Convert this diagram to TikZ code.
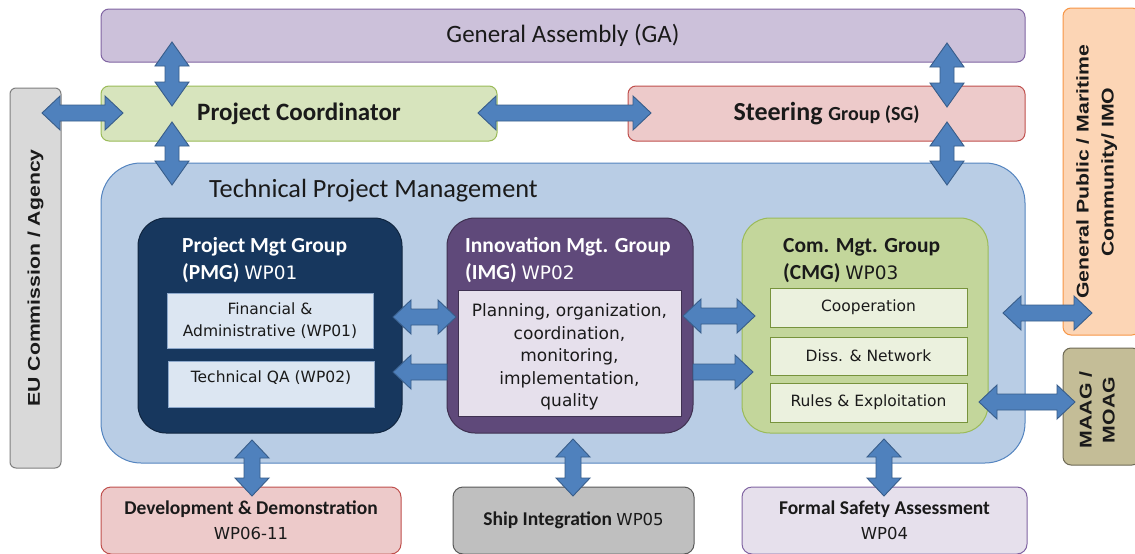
\documentclass[tikz,border=0pt]{standalone}
\usepackage{fontspec}
\usepackage{graphicx}
\setmainfont{Carlito}
\newfontfamily\dvs{DejaVu Sans}
\newfontfamily\lsans{Liberation Sans}
\usetikzlibrary{calc}
\definecolor{gafill}{HTML}{CCC1DA}\definecolor{galine}{HTML}{8064A2}
\definecolor{pcfill}{HTML}{D7E4BD}\definecolor{pcline}{HTML}{9BBB59}
\definecolor{sgfill}{HTML}{EDCACA}\definecolor{sgline}{HTML}{C0504D}
\definecolor{eufill}{HTML}{D9D9D9}\definecolor{euline}{HTML}{7F7F7F}
\definecolor{gpfill}{HTML}{FCD5B5}\definecolor{gpline}{HTML}{F79646}
\definecolor{mafill}{HTML}{C4BD97}\definecolor{maline}{HTML}{6E6A55}
\definecolor{tpfill}{HTML}{B9CDE5}\definecolor{tpline}{HTML}{5585C0}
\definecolor{pmfill}{HTML}{17375E}\definecolor{pmline}{HTML}{10253F}
\definecolor{fifill}{HTML}{DCE6F2}\definecolor{filine}{HTML}{8EA9CC}
\definecolor{imfill}{HTML}{5F497A}\definecolor{imline}{HTML}{3F3151}
\definecolor{iifill}{HTML}{E6E0EC}
\definecolor{cmfill}{HTML}{C3D69B}\definecolor{cmline}{HTML}{9BBB59}
\definecolor{cifill}{HTML}{EBF1DE}\definecolor{ciline}{HTML}{77933C}
\definecolor{shfill}{HTML}{BFBFBF}\definecolor{shline}{HTML}{595959}
\definecolor{fsfill}{HTML}{E6E0EC}
\definecolor{arfill}{HTML}{4F81BD}\definecolor{arline}{HTML}{385D8A}
\definecolor{ink}{HTML}{1A1A1A}
\newcommand\fsz[2]{\fontsize{#1}{#2}\selectfont}
\newcommand\tabl[2]{\begin{tabular}[t]{@{}#1@{}}#2\end{tabular}}
\def\hw{17pt}\def\sw{8pt}\def\hh{18pt}
% vertical double arrow: top, bottom, head length, shaft half width
\newcommand\arrV[4]{\draw[blk] let \p1=(#1),\p2=(#2) in (\x1,\y1) -- (\x1+\hw,\y1-#3) -- (\x1+#4,\y1-#3) -- (\x1+#4,\y2+#3) -- (\x1+\hw,\y2+#3) -- (\x1,\y2) -- (\x1-\hw,\y2+#3) -- (\x1-#4,\y2+#3) -- (\x1-#4,\y1-#3) -- (\x1-\hw,\y1-#3) -- cycle;}
\newcommand\arrH[2]{\draw[blk] let \p1=(#1),\p2=(#2) in (\x1,\y1) -- (\x1+\hh,\y1+\hw) -- (\x1+\hh,\y1+\sw) -- (\x2-\hh,\y1+\sw) -- (\x2-\hh,\y1+\hw) -- (\x2,\y1) -- (\x2-\hh,\y1-\hw) -- (\x2-\hh,\y1-\sw) -- (\x1+\hh,\y1-\sw) -- (\x1+\hh,\y1-\hw) -- cycle;}
\newcommand\arrL[2]{\draw[blk] let \p1=(#1),\p2=(#2) in (\x1,\y1) -- (\x1+\hh,\y1+\hw) -- (\x1+\hh,\y1+\sw) -- (\x2,\y1+\sw) -- (\x2,\y1-\sw) -- (\x1+\hh,\y1-\sw) -- (\x1+\hh,\y1-\hw) -- cycle;}
\newcommand\arrR[2]{\draw[blk] let \p1=(#1),\p2=(#2) in (\x2,\y1) -- (\x2-\hh,\y1+\hw) -- (\x2-\hh,\y1+\sw) -- (\x1,\y1+\sw) -- (\x1,\y1-\sw) -- (\x2-\hh,\y1-\sw) -- (\x2-\hh,\y1-\hw) -- cycle;}
\begin{document}
\begin{tikzpicture}[x=1pt,y=-1pt,
  box/.style={draw, line width=1pt, rounded corners=8pt, inner sep=0pt, text=ink},
  grp/.style={draw, line width=1pt, rounded corners=28pt, inner sep=0pt},
  sub/.style={draw, line width=0.8pt, inner sep=0pt, text=ink, align=center},
  blk/.style={fill=arfill, draw=arline, line width=0.9pt, line join=miter},
  ttl/.style={anchor=base west, inner sep=0pt}]
\useasboundingbox (0,0) rectangle (1135,554);
\clip (0,0) rectangle (1135,554);
\fill[white] (0,0) rectangle (1135,554);

% top row
\node[box, fill=gafill, draw=galine, minimum width=924pt, minimum height=53pt] (ga) at (563,35.5)
  {\fsz{25}{30}General Assembly (GA)};
\node[box, fill=pcfill, draw=pcline, minimum width=396pt, minimum height=55pt] (pc) at (299,113.5)
  {\fsz{25}{30}\bfseries Project Coordinator};
\node[box, fill=sgfill, draw=sgline, minimum width=397pt, minimum height=55pt] (sg) at (826.5,113.5)
  {\bfseries\fsz{26}{30}Steering \fsz{20}{24}Group (SG)};

% side boxes
\node[box, rounded corners=6pt, fill=eufill, draw=euline, minimum width=51pt, minimum height=380pt] (eu) at (35.5,278)
  {\rotatebox{90}{\lsans\bfseries\fsz{17}{24}\scalebox{1.25}[1]{EU Commission / Agency}}};
\node[box, fill=gpfill, draw=gpline, minimum width=77pt, minimum height=327pt] (gp) at (1101.5,171.5) {};
\node[inner sep=0pt, text=ink] (gptext) at (1096,172)
  {\rotatebox{90}{\lsans\bfseries\fsz{17}{25}\scalebox{1.25}[1]{\tabl{c}{General Public / Maritime\\ Community/ IMO}}}};
\node[box, fill=mafill, draw=maline, minimum width=77pt, minimum height=117pt] (maag) at (1101.5,406.5) {};
\node[inner sep=0pt, text=ink] (maagtext) at (1098.5,410)
  {\rotatebox{90}{\lsans\bfseries\fsz{17}{23}\scalebox{1.25}[1]{\tabl{c}{MAAG /\\ MOAG}}}};

% technical project management
\node[draw=tpline, fill=tpfill, line width=1pt, rounded corners=40pt, minimum width=924pt, minimum height=300pt, inner sep=0pt] (tpm) at (563,313) {};
\node[ttl, text=ink] (tpmt) at (209,197) {\fsz{26.3}{30}Technical Project Management};

% PMG
\node[grp, fill=pmfill, draw=pmline, minimum width=264pt, minimum height=215pt] (pmg) at (270,325.5) {};
\node[ttl, text=white] (pmgt) at (182,252) {\fsz{21.5}{27}\tabl{l}{\bfseries Project Mgt Group\\ \bfseries (PMG) {\dvs\mdseries\fsz{18.5}{27}WP01}}};
\node[sub, fill=fifill, draw=filine, minimum width=206pt, minimum height=55pt, font={\dvs\fsz{15.5}{22.5}}] (fin) at (270,320.5)
  {Financial \&\\ Administrative (WP01)};
\node[sub, fill=fifill, draw=filine, minimum width=206pt, minimum height=46pt] (tqa) at (271,384) {};
\node[text=ink, inner sep=0pt, font={\dvs\fsz{15.5}{22}}] (tqat) at (271,378) {Technical QA (WP02)};

% IMG
\node[grp, fill=imfill, draw=imline, minimum width=246pt, minimum height=215pt] (img) at (570,325.5) {};
\node[ttl, text=white] (imgt) at (465,252) {\fsz{21.5}{27}\tabl{l}{\bfseries Innovation Mgt. Group\\ \bfseries (IMG) {\dvs\mdseries\fsz{18.5}{27}WP02}}};
\node[sub, fill=iifill, draw=imline, minimum width=223pt, minimum height=126pt] (imgin) at (569.5,353) {};
\node[text=ink, inner sep=0pt, align=center, font={\dvs\fsz{17}{22.5}}] (imgintext) at (569.5,357)
  {Planning, organization,\\ coordination,\\ monitoring,\\ implementation,\\ quality};

% CMG
\node[grp, fill=cmfill, draw=cmline, minimum width=246pt, minimum height=215pt] (cmg) at (865,325.5) {};
\node[ttl, text=ink] (cmgt) at (783,252) {\fsz{21.5}{27}\tabl{l}{\bfseries Com. Mgt. Group\\ \bfseries (CMG) {\dvs\mdseries\fsz{18.5}{27}WP03}}};
\node[sub, fill=cifill, draw=ciline, minimum width=197pt, minimum height=39pt, font={\dvs\fsz{15.5}{20}}] (coop) at (868.5,307.5) {Cooperation};
\node[sub, fill=cifill, draw=ciline, minimum width=197pt, minimum height=38pt, font={\dvs\fsz{15.5}{20}}] (diss) at (868.5,356) {Diss. \& Network};
\node[sub, fill=cifill, draw=ciline, minimum width=197pt, minimum height=39pt, font={\dvs\fsz{15.5}{20}}] (rules) at (868.5,402.5) {Rules \& Exploitation};

% bottom row
\node[box, rounded corners=10pt, fill=sgfill, draw=sgline, minimum width=300pt, minimum height=67pt, align=center, font={\fsz{19.5}{24.5}}] (dev) at (251,520.5)
  {\textbf{Development \& Demonstration}\\ {\dvs\fsz{16.5}{24.5}WP06-11}};
\node[box, rounded corners=10pt, fill=shfill, draw=shline, minimum width=241pt, minimum height=67pt, font={\fsz{19.5}{24.5}}] (ship) at (573.5,520.5)
  {\textbf{Ship Integration} {\dvs\fsz{16.5}{24}WP05}};
\node[box, rounded corners=10pt, fill=fsfill, draw=galine, minimum width=285pt, minimum height=67pt, align=center, font={\fsz{19.5}{24.5}}] (fsa) at (884.5,520.5)
  {\textbf{Formal Safety Assessment}\\ {\dvs\fsz{16.5}{24.5}WP04}};

% arrow end points
\coordinate (a1t) at (172,42);  \coordinate (a1b) at (172,106);
\coordinate (a2t) at (172,122); \coordinate (a2b) at (172,185);
\coordinate (a3t) at (947,43);  \coordinate (a3b) at (947,107);
\coordinate (a4t) at (947,122); \coordinate (a4b) at (947,185);
\coordinate (h1l) at (42,113);  \coordinate (h1r) at (123,113);
\coordinate (h2l) at (478,113); \coordinate (h2r) at (651,113);
\coordinate (h3l) at (393,317); \coordinate (h3r) at (456,317);
\coordinate (s1p) at (393,372); \coordinate (s1t) at (447,372);
\coordinate (h4l) at (683,316); \coordinate (h4r) at (755,316);
\coordinate (s2t) at (693,372); \coordinate (s2p) at (753,372);
\coordinate (h5l) at (1003,313); \coordinate (h5r) at (1092,313);
\coordinate (h6l) at (979,402); \coordinate (h6r) at (1075,402);
\coordinate (b1t) at (252,440); \coordinate (b1b) at (252,496);
\coordinate (b2t) at (573,439); \coordinate (b2b) at (573,496);
\coordinate (b3t) at (884,439); \coordinate (b3b) at (884,496);

\arrV{a1t}{a1b}{24pt}{7pt}\arrV{a2t}{a2b}{24pt}{7pt}\arrV{a3t}{a3b}{24pt}{7pt}\arrV{a4t}{a4b}{24pt}{7pt}
\arrH{h1l}{h1r}\arrH{h2l}{h2r}\arrH{h3l}{h3r}\arrH{h4l}{h4r}\arrH{h5l}{h5r}\arrH{h6l}{h6r}
\arrL{s1p}{s1t}\arrR{s2t}{s2p}
\arrV{b1t}{b1b}{18pt}{8pt}\arrV{b2t}{b2b}{18pt}{8pt}\arrV{b3t}{b3b}{18pt}{8pt}
\end{tikzpicture}
\end{document}
